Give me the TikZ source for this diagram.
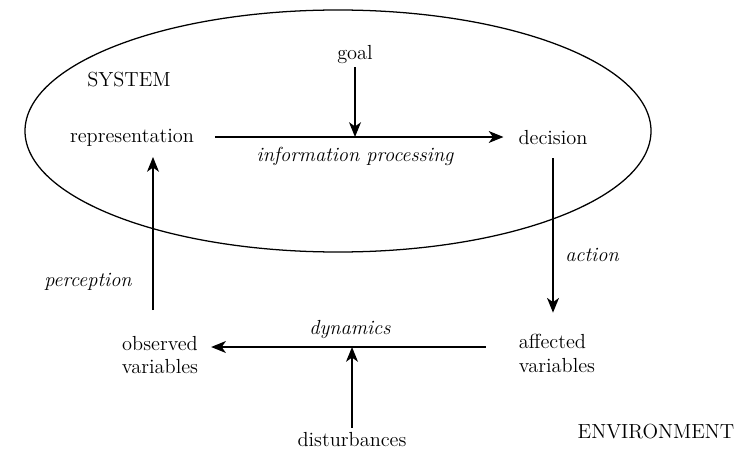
\documentclass[tikz,border=0pt]{standalone}
\usepackage{tikz}
\usetikzlibrary{arrows.meta,positioning,shapes.geometric,calc}

\begin{document}
\begin{tikzpicture}[
    txt/.style={inner sep=2pt, align=center, font=\fontsize{14.5}{17}\selectfont},
    itxt/.style={txt, font=\fontsize{14.5}{17}\selectfont\itshape},
    arrow/.style={-{Stealth[length=10.5pt, width=8.5pt, inset=3pt]}, line width=0.9pt}
]
\useasboundingbox (0,0) rectangle (18.8,11.25);

% system boundary
\node[ellipse, draw, line width=0.9pt, minimum width=15.65cm, minimum height=6.05cm] (system) at (8.45,7.975) {};
\node[txt] (sysname) at (3.225,9.25) {SYSTEM};

\node[txt] (goal) at (8.875,9.875) {goal};
\node[txt] (repr) at (3.3,7.8) {representation};
\node[txt] (decision) at (13.825,7.8) {decision};
\node[txt, align=left] (affected) at (13.925,2.425) {affected\\variables};
\node[txt] (observed) at (4.0,2.375) {observed\\variables};
\node[txt] (disturb) at (8.8,0.25) {disturbances};
\node[txt] (envname) at (16.4,0.45) {ENVIRONMENT};

\coordinate (ipjoin) at (8.875,7.825);
\coordinate (dynjoin) at (8.8,2.575);

\draw[arrow] (repr.east |- ipjoin) ++(0.45,0) coordinate (ipstart) -- ($(decision.west |- ipjoin)+(-0.3,0)$) coordinate (ipend);
\node[itxt] (ip) at (8.875,7.35) {information processing};
\draw[arrow] (goal.south) -- (ipjoin);

\draw[arrow] ($(decision.south)+(0,-0.25)$) -- ($(decision.south |- affected.north)+(0,0.45)$);
\node[itxt] (action) at (14.8,4.875) {action};

\draw[arrow] ($(affected.west |- dynjoin)+(-0.75,0)$) -- ($(observed.east |- dynjoin)+(0.25,0)$);
\node[itxt] (dyn) at (8.75,3.0) {dynamics};
\draw[arrow] (disturb.north) ++(0,0.05) -- (dynjoin);

\draw[arrow] (3.825,3.5) -- (3.825,7.325);
\node[itxt] (percep) at (2.2,4.2) {perception};

\end{tikzpicture}
\end{document}
